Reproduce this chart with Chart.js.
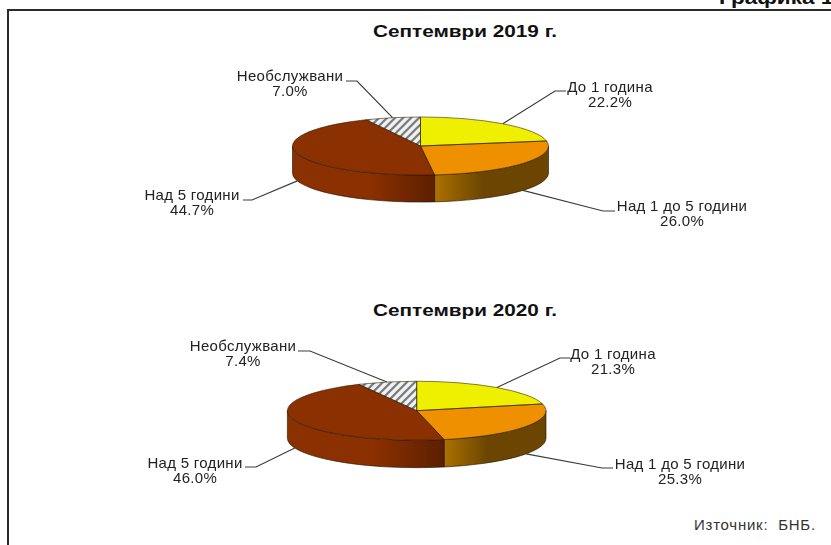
<!DOCTYPE html>
<html>
<head>
<meta charset="utf-8">
<script src="https://cdn.jsdelivr.net/npm/chart.js@4/dist/chart.umd.js"></script>
<style>
  html, body { margin: 0; padding: 0; background: #fff; width: 831px; height: 545px; overflow: hidden; }
  body { position: relative; font-family: "Liberation Sans", Arial, sans-serif; color: #222; }
  canvas { position: absolute; left: 0; top: 0; }
  .frame { position: absolute; left: 7px; top: 9px; width: 830px; height: 540px; border-top: 2px solid #2b2b2b; border-left: 2px solid #2b2b2b; }
  .txt { position: absolute; white-space: pre; line-height: 18px; }
  .title { font-weight: bold; font-size: 17px; color: #111; transform: translateX(-50%) scaleX(1.22); }
</style>
</head>
<body>
<div class="frame"></div>
<div class="txt title" style="left:465px;top:23px">Септември 2019 г.</div>
<div class="txt title" style="left:465px;top:302px">Септември 2020 г.</div>
<div class="txt" style="left:719px;top:-11px;font-weight:bold;font-size:18px;color:#111;transform-origin:left;transform:scaleX(1.25)">Графика 1</div>
<div class="txt" style="left:694px;top:516px;font-size:15px;letter-spacing:0.75px;color:#333">Източник:  БНБ.</div>
<canvas id="pie2019" width="831" height="545"></canvas>
<canvas id="pie2020" width="831" height="545"></canvas>
<script>
const categories = ['До 1 година', 'Над 1 до 5 години', 'Над 5 години', 'Необслужвани'];
const values2019 = [22.2, 26.0, 44.7, 7.0];
const values2020 = [21.3, 25.3, 46.0, 7.4];

const sliceColors = ['#efef00', '#ee9000', '#8b3000', null];
// side wall shading, per slice: [stop, colour] pairs across the slice's visible width
const wallStops = [
  null,
  [[0, '#ac7000'], [0.42, '#6c4600'], [1, '#6c4600']],
  [[0, '#8b3000'], [0.55, '#8b3000'], [1, '#5c1f00']],
  null
];

// centre, radius, flattening and thickness of each pie
const layout2019 = { cx: 420.5, cy: 146, r: 128, squash: 0.227, depth: 27 };
const layout2020 = { cx: 416.7, cy: 410.7, r: 129.3, squash: 0.228, depth: 27.5 };

// leader elbow x/y, leader end x, text centre x, name line y, percent line y
const labels2019 = [
  [555, 91, 566, 610, 88, 103],
  [603, 211, 615, 682, 207, 222],
  [252, 200, 243, 192, 196, 211],
  [357, 81, 346, 290, 77, 92]
];
const labels2020 = [
  [560, 358, 570, 613, 355, 370],
  [602, 468, 613, 680, 465, 480],
  [256, 467, 245, 195, 464, 479],
  [310, 351, 298, 243, 347, 362]
];

function hatchPattern(squash) {
  const c = document.createElement('canvas');
  c.width = 8; c.height = 8;
  const g = c.getContext('2d');
  g.fillStyle = '#f2f2f2';
  g.fillRect(0, 0, 8, 8);
  g.strokeStyle = '#77787c';
  g.lineWidth = 2.2;
  g.beginPath();
  g.moveTo(-2, 2); g.lineTo(2, -2);
  g.moveTo(-2, 10); g.lineTo(10, -2);
  g.moveTo(6, 10); g.lineTo(10, 6);
  g.stroke();
  const p = g.createPattern(c, 'repeat');
  // arcs are drawn flattened, so stretch the hatch to keep its angle
  p.setTransform(new DOMMatrix().scale(1, 1 / squash));
  return p;
}

// flattens the pie, adds the side wall, rim lines and leader labels
const pie3d = {
  id: 'pie3d',
  beforeDatasetsDraw(chart, args, opts) {
    const ctx = chart.ctx;
    const { squash, depth } = opts.layout;
    const arcs = chart.getDatasetMeta(0).data;
    arcs.forEach((arc, i) => {
      if (!wallStops[i]) return;
      const ry = arc.outerRadius * squash;
      const a = Math.max(arc.startAngle, 0);
      const b = Math.min(arc.endAngle, Math.PI);
      const x0 = arc.x + arc.outerRadius * Math.cos(b);
      const x1 = arc.x + arc.outerRadius * Math.cos(a);
      const grad = ctx.createLinearGradient(x0, 0, x1, 0);
      wallStops[i].forEach(s => grad.addColorStop(s[0], s[1]));
      ctx.save();
      ctx.beginPath();
      ctx.ellipse(arc.x, arc.y, arc.outerRadius, ry, 0, a, b);
      ctx.ellipse(arc.x, arc.y + depth, arc.outerRadius, ry, 0, b, a, true);
      ctx.closePath();
      ctx.fillStyle = grad;
      ctx.fill();
      ctx.strokeStyle = 'rgba(30,15,0,0.75)';
      ctx.lineWidth = 0.8;
      ctx.stroke();
      ctx.restore();
    });
    const c = arcs[0];
    ctx.save();
    ctx.translate(c.x, c.y);
    ctx.scale(1, squash);
    ctx.translate(-c.x, -c.y);
  },
  afterDatasetsDraw(chart, args, opts) {
    const ctx = chart.ctx;
    ctx.restore();
    const { squash, depth } = opts.layout;
    const arcs = chart.getDatasetMeta(0).data;
    arcs.forEach(arc => {
      ctx.beginPath();
      ctx.moveTo(arc.x, arc.y);
      ctx.ellipse(arc.x, arc.y, arc.outerRadius, arc.outerRadius * squash, 0, arc.startAngle, arc.endAngle);
      ctx.closePath();
      ctx.strokeStyle = 'rgba(40,25,0,0.7)';
      ctx.lineWidth = 0.8;
      ctx.stroke();
    });
    ctx.font = '15px "Liberation Sans", Arial, sans-serif';
    ctx.letterSpacing = '0.3px';
    ctx.textAlign = 'center';
    ctx.textBaseline = 'middle';
    arcs.forEach((arc, i) => {
      const mid = (arc.startAngle + arc.endAngle) / 2;
      const sx = arc.x + arc.outerRadius * Math.cos(mid);
      let sy = arc.y + arc.outerRadius * squash * Math.sin(mid);
      if (Math.sin(mid) > 0) sy += depth;
      const [ex, ey, endX, textX, nameY, pctY] = opts.labels[i];
      ctx.beginPath();
      ctx.moveTo(sx, sy);
      ctx.lineTo(ex, ey);
      ctx.lineTo(endX, ey);
      ctx.strokeStyle = '#3c3c3c';
      ctx.lineWidth = 1.2;
      ctx.stroke();
      ctx.fillStyle = '#222';
      ctx.fillText(chart.data.labels[i], textX, nameY);
      ctx.fillText(opts.values[i].toFixed(1) + '%', textX, pctY);
    });
  }
};

function drawPie(id, values, place, labels) {
  new Chart(document.getElementById(id), {
    type: 'pie',
    plugins: [pie3d],
    data: {
      labels: categories,
      datasets: [{
        data: values,
        backgroundColor: sliceColors.map(c => c || hatchPattern(place.squash)),
        borderWidth: 0
      }]
    },
    options: {
      responsive: false,
      animation: false,
      events: [],
      layout: {
        padding: {
          left: place.cx - place.r,
          right: 831 - place.cx - place.r,
          top: place.cy - place.r,
          bottom: 545 - place.cy - place.r
        }
      },
      plugins: {
        legend: { display: false },
        title: { display: false },
        tooltip: { enabled: false },
        pie3d: { layout: place, labels: labels, values: values }
      }
    }
  });
}

drawPie('pie2019', values2019, layout2019, labels2019);
drawPie('pie2020', values2020, layout2020, labels2020);
</script>
</body>
</html>
